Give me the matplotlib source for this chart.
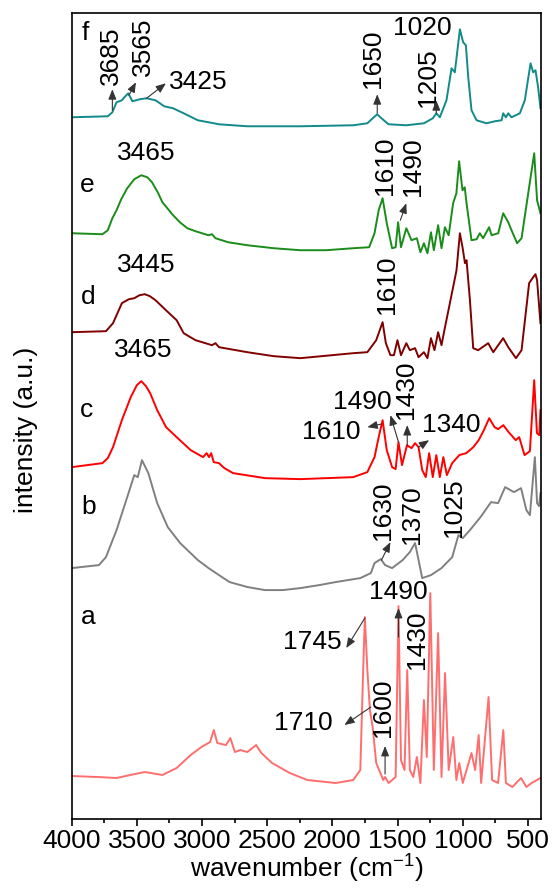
import matplotlib
matplotlib.use("Agg")
import matplotlib.pyplot as plt
from matplotlib.ticker import MultipleLocator

plt.rcParams['font.family'] = ['Liberation Sans', 'DejaVu Sans']
plt.rcParams['mathtext.fontset'] = 'custom'
plt.rcParams['mathtext.rm'] = 'Liberation Sans'
plt.rcParams['mathtext.it'] = 'Liberation Sans:italic'

# spectra: wavenumber (cm-1) and stacked intensity (a.u.)
wn_f = [4000, 3723, 3688, 3656, 3615, 3596, 3566, 3534, 3479, 3426, 3357, 3290, 3222, 3141, 3032,
        2950, 2870, 2653, 2246, 1840, 1732, 1691, 1656, 1624, 1569, 1433, 1298, 1230, 1203, 1176,
        1125, 1086, 1061, 1022, 997, 976, 958, 933, 894, 818, 754, 702, 690, 669, 651, 626, 562,
        524, 480, 460, 442, 422, 404]
int_f = [702, 703, 707, 717, 719, 722, 726, 718, 720, 721, 719, 713, 711, 706, 699,
         697, 695, 693, 693, 694, 696, 701, 705, 701, 695, 694, 696, 701, 706, 702,
         719, 751, 747, 790, 777, 774, 742, 709, 699, 696, 698, 699, 706, 702, 706, 702, 706,
         719, 756, 747, 749, 732, 711]

wn_e = [4000, 3764, 3723, 3688, 3656, 3620, 3574, 3520, 3466, 3420, 3384, 3340, 3304, 3260, 3222,
        3170, 3113, 3050, 2951, 2924, 2897, 2800, 2653, 2450, 2246, 2050, 1840, 1718, 1677, 1645,
        1615, 1583, 1542, 1515, 1496, 1474, 1433, 1393, 1352, 1325, 1298, 1271, 1244, 1222, 1189,
        1163, 1137, 1108, 1074, 1049, 1028, 1002, 985, 971, 933, 894, 869, 844, 798, 779, 728,
        690, 651, 626, 583, 549, 491, 452, 430, 404]
int_e = [586, 585, 589, 601, 609, 620, 631, 640, 644, 642, 637, 627, 617, 610, 604,
         597, 591, 588, 584, 585, 581, 577, 574, 571, 569, 569, 571, 572, 586, 609,
         621, 596, 571, 572, 597, 572, 591, 579, 581, 567, 576, 566, 587, 569, 594,
         571, 592, 584, 616, 626, 658, 629, 632, 616, 579, 580, 586, 581, 592, 584, 586,
         606, 597, 589, 576, 581, 632, 666, 619, 606]

wn_d = [4000, 3737, 3683, 3615, 3561, 3520, 3480, 3439, 3400, 3357, 3277, 3195, 3141, 3050, 2924,
        2897, 2870, 2653, 2450, 2246, 1840, 1732, 1664, 1615, 1590, 1555, 1528, 1501, 1474, 1433,
        1406, 1366, 1339, 1298, 1271, 1244, 1217, 1189, 1163, 1141, 1074, 1048, 1022, 1002, 983,
        971, 945, 920, 882, 805, 766, 690, 651, 592, 549, 491, 460, 442, 430, 404]
int_d = [487, 488, 496, 516, 520, 521, 524, 525, 523, 519, 509, 499, 486, 479, 474,
         476, 472, 467, 463, 461, 466, 467, 479, 497, 476, 464, 464, 479, 464, 476,
         469, 471, 462, 467, 461, 481, 469, 487, 474, 489, 532, 549, 586, 572, 556,
         559, 519, 471, 469, 476, 467, 481, 472, 461, 469, 536, 542, 545, 539, 496]

wn_c = [4000, 3764, 3723, 3683, 3615, 3547, 3500, 3466, 3430, 3398, 3344, 3276, 3195, 3087, 2992,
        2965, 2946, 2930, 2910, 2870, 2829, 2762, 2518, 2246, 1840, 1732, 1677, 1645, 1615, 1583,
        1542, 1515, 1493, 1466, 1428, 1393, 1366, 1339, 1311, 1284, 1258, 1230, 1203, 1176, 1149,
        1122, 1081, 1027, 973, 919, 878, 838, 797, 756, 729, 689, 648, 594, 567, 526, 485, 452,
        431, 413, 404]
int_c = [352, 356, 361, 372, 399, 422, 434, 438, 433, 426, 409, 392, 382, 369, 362,
         366, 362, 366, 357, 356, 351, 346, 341, 340, 342, 347, 362, 382, 399, 369,
         352, 350, 377, 354, 374, 371, 376, 372, 349, 342, 366, 342, 364, 342, 362,
         344, 356, 364, 366, 372, 379, 389, 401, 392, 390, 394, 387, 379, 382, 364, 368, 439,
         386, 384, 409]

wn_b = [4000, 3791, 3737, 3656, 3574, 3520, 3493, 3461, 3412, 3344, 3263, 3168, 3032, 2950, 2870,
        2789, 2650, 2518, 2380, 2246, 2100, 1976, 1786, 1705, 1677, 1629, 1596, 1542, 1461, 1406,
        1366, 1339, 1311, 1244, 1163, 1081, 1033, 1000, 945, 864, 783, 729, 675, 607, 553, 512,
        485, 447, 430, 415, 404]
int_b = [251, 254, 262, 289, 322, 344, 342, 359, 346, 316, 292, 276, 259, 251, 244,
         237, 232, 229, 229, 231, 234, 237, 241, 246, 256, 260, 254, 251, 259, 267,
         276, 259, 241, 244, 251, 262, 284, 281, 289, 302, 317, 316, 332, 327, 331, 309,
         304, 362, 316, 313, 326]

wn_a = [4000, 3800, 3656, 3550, 3439, 3304, 3195, 3087, 3005, 2938, 2910, 2883, 2816, 2783, 2748,
        2707, 2653, 2585, 2545, 2463, 2327, 2192, 1975, 1840, 1786, 1764, 1751, 1732, 1712, 1691,
        1664, 1610, 1596, 1569, 1515, 1493, 1474, 1447, 1426, 1406, 1380, 1352, 1325, 1298, 1276,
        1249, 1222, 1189, 1163, 1136, 1108, 1073, 1049, 1027, 1000, 933, 905, 878, 859, 802, 775,
        729, 689, 669, 620, 553, 512, 472, 404]
int_a = [43, 42, 41, 44, 47, 44, 51, 64, 72, 77, 89, 76, 74, 81, 67,
         69, 67, 74, 66, 56, 46, 39, 36, 39, 49, 149, 202, 149, 109, 92,
         56, 39, 42, 36, 42, 213, 59, 49, 149, 49, 42, 62, 36, 119, 62,
         226, 49, 186, 42, 146, 49, 82, 39, 56, 36, 66, 49, 84, 36, 122, 39,
         36, 89, 36, 32, 41, 32, 36, 41]

spectra = [
    ('a', wn_a, int_a, '#ff6e6e'),
    ('b', wn_b, int_b, '#808080'),
    ('c', wn_c, int_c, '#ff0000'),
    ('d', wn_d, int_d, '#800000'),
    ('e', wn_e, int_e, '#1a8c1a'),
    ('f', wn_f, int_f, '#128a8a'),
]

fig = plt.figure(figsize=(5.54, 8.94), dpi=100)
ax = fig.add_axes([0.1294, 0.0839, 0.8471, 0.9012])

for name, x, y, col in spectra:
    ax.plot(x, y, color=col, lw=1.4, solid_joinstyle='round')

ax.set_xlim(4000, 400)
ax.set_ylim(0, 806)
ax.set_yticks([])
ax.xaxis.set_major_locator(MultipleLocator(500))
ax.xaxis.set_minor_locator(MultipleLocator(250))
ax.tick_params(axis='x', which='major', direction='out', length=5, width=1.2, labelsize=19, pad=2)
ax.tick_params(axis='x', which='minor', direction='out', length=3, width=1.2)
for s in ax.spines.values():
    s.set_linewidth(1.2)

ax.set_xlabel('wavenumber (cm$^{-1}$)', fontsize=19, labelpad=0)
fig.text(26.5 / 554, 1 - 430 / 894, 'intensity (a.u.)', fontsize=19, rotation=90,
         ha='center', va='center')

fs = 19
# curve letters
for name, x, y in [('f', 3898, 786), ('e', 3878, 634), ('d', 3873, 522), ('c', 3886, 409),
                   ('b', 3873, 312), ('a', 3873, 202)]:
    ax.text(x, y, name, fontsize=fs, ha='center', va='center')

# peak labels: text, x, y, rotation
labels = [
    ('3685', 3699, 764, 90), ('3565', 3453, 773, 90), ('3425', 3031, 737, 0),
    ('1650', 1691, 761, 90), ('1020', 1314, 791, 0), ('1205', 1263, 742, 90),
    ('3465', 3426, 666, 0), ('1610', 1597, 654, 90), ('1490', 1380, 653, 90),
    ('3445', 3426, 554, 0), ('1610', 1582, 534, 90),
    ('3465', 3453, 469, 0), ('1490', 1774, 417, 0), ('1430', 1433, 429, 90),
    ('1610', 2012, 387, 0), ('1340', 1091, 394, 0),
    ('1630', 1610, 308, 90), ('1370', 1393, 304, 90), ('1025', 1068, 311, 90),
    ('1490', 1498, 227, 0), ('1430', 1352, 179, 90), ('1745', 2157, 177, 0),
    ('1710', 2226, 96, 0), ('1600', 1610, 111, 90),
]
for t, x, y, rot in labels:
    ax.text(x, y, t, fontsize=fs, ha='center', va='center', rotation=rot)

# arrows: tail (on curve) -> head
arrows = [
    ((3688, 709), (3688, 730)), ((3561, 724), (3507, 737)), ((3426, 721), (3277, 736)),
    ((1656, 706), (1656, 725)), ((1203, 706), (1203, 719)),
    ((1479, 599), (1433, 616)),
    ((1628, 395), (1732, 392)), ((1493, 377), (1555, 404)), ((1426, 374), (1426, 394)),
    ((1339, 372), (1258, 379)),
    ((1624, 259), (1555, 277)),
    ((1493, 182), (1493, 211)), ((1751, 201), (1894, 171)), ((1705, 112), (1908, 94)),
    ((1596, 45), (1596, 73)),
]
for tail, head in arrows:
    ax.annotate('', xy=head, xytext=tail,
                arrowprops=dict(arrowstyle='-|>,head_length=0.5,head_width=0.2',
                                color='0.2', lw=0.8, shrinkA=0, shrinkB=0, mutation_scale=12))

fig.savefig('out.png', dpi=100)
